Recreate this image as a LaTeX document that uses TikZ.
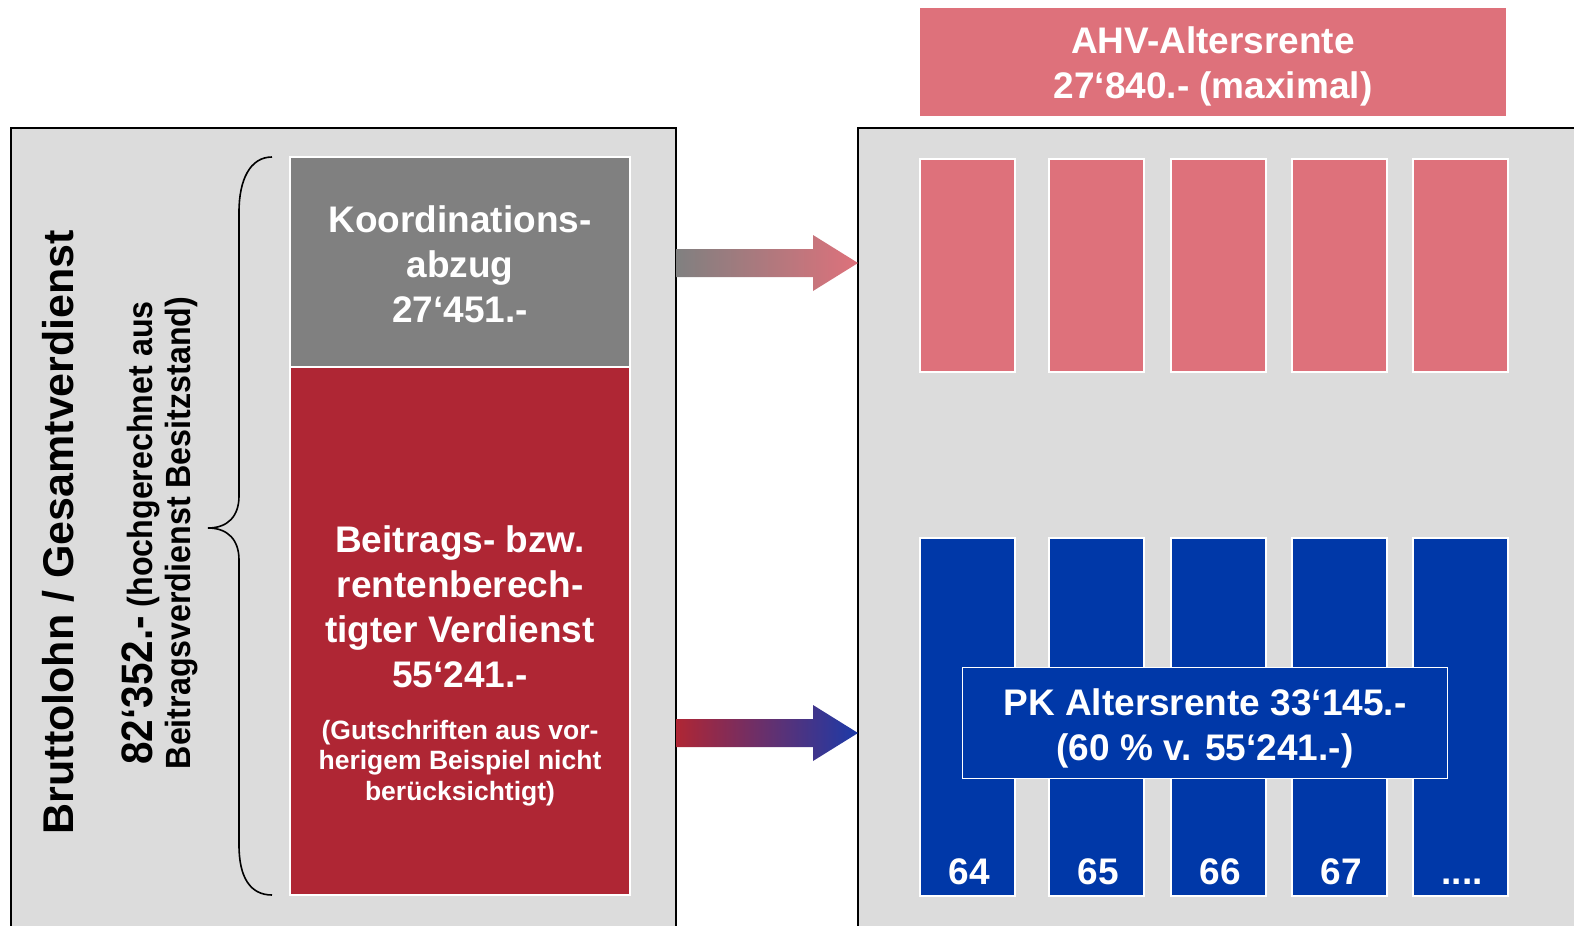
\documentclass[tikz,border=0pt]{standalone}
\usepackage{fontspec}
\setmainfont{Liberation Sans}
\newfontfamily\narrowsf[FakeStretch=0.92]{Liberation Sans}
\usepackage{tikz}
\usetikzlibrary{calc}

\definecolor{panelgray}{RGB}{220,220,220}
\definecolor{koordgray}{RGB}{128,128,128}
\definecolor{lohnred}{RGB}{175,38,52}
\definecolor{ahvpink}{RGB}{222,113,123}
\definecolor{pkblue}{RGB}{0,56,168}
\definecolor{tipblue}{RGB}{28,58,168}

\tikzset{
  whitebox/.style={draw=white, line width=1.5pt, inner sep=0pt},
  bigtext/.style={font=\bfseries\fontsize{37}{45}\selectfont, align=center, text=white, inner sep=0pt},
  smalltext/.style={font=\bfseries\fontsize{26.5}{30.5}\selectfont, align=center, text=white, inner sep=0pt},
  sidetext/.style={rotate=90, anchor=base, inner sep=0pt},
}

\newcommand{\moredots}{....}

% fat shaded arrow: start, tip, left colour, right colour
\newcommand{\fatarrow}[4]{%
  \shade[left color=#3, right color=#4]
    ($(#1)+(0,-14)$) -- ($(#2)+(-45,-14)$) -- ($(#2)+(-45,-28)$) -- (#2)
    -- ($(#2)+(-45,28)$) -- ($(#2)+(-45,14)$) -- ($(#1)+(0,14)$) -- cycle;}

\begin{document}
\begin{tikzpicture}[x=1pt,y=-1pt]
  \useasboundingbox (0,0) rectangle (1574,926);

  % the two panels
  \fill[panelgray] (11,128) rectangle (676,926);
  \draw[line width=1.8pt] (11,926) -- (11,128) -- (676,128) -- (676,926);
  \fill[panelgray] (858,128) rectangle (1574,926);
  \draw[line width=1.8pt] (858,926) -- (858,128) -- (1574,128);

  % left side: salary split
  \node[sidetext, font=\bfseries\fontsize{43}{50}\selectfont] (brutto) at (73,532) {Bruttolohn / Gesamtverdienst};
  \node[sidetext, font=\narrowsf\bfseries\fontsize{35}{40}\selectfont] (betrag) at (152,533)
    {{\fontsize{44}{50}\selectfont 82‘352.-} (hochgerechnet aus};
  \node[sidetext, font=\narrowsf\bfseries\fontsize{35}{40}\selectfont] (besitz) at (190,533) {Beitragsverdienst Besitzstand)};

  \draw[line width=1.6pt] (272,157) .. controls (250,157) and (239,180) .. (239,212) -- (239,496)
    .. controls (239,516) and (228,528) .. (208,528)
    .. controls (228,528) and (239,540) .. (239,560) -- (239,845)
    .. controls (239,877) and (250,895) .. (272,895);

  \node[whitebox, fill=koordgray, minimum width=340pt, minimum height=210pt] (koord) at (460,262) {};
  \node[bigtext] (koordtext) at (460,264) {Koordinations-\\abzug\\27‘451.-};
  \node[whitebox, fill=lohnred, minimum width=340pt, minimum height=528pt] (beitrag) at (460,631) {};
  \node[bigtext] (beitragtext) at (460,607) {Beitrags- bzw.\\rentenberech-\\tigter Verdienst\\55‘241.-};
  \node[smalltext] (gutschrift) at (460,763) {(Gutschriften aus vor-\\herigem Beispiel nicht\\berücksichtigt)};

  % right side: pensions per year
  \node[whitebox, fill=ahvpink, minimum width=588pt, minimum height=109pt] (ahvrente) at (1213,62) {};
  \node[bigtext] (ahvtext) at (1213,66) {AHV-Altersrente\\27‘840.- (maximal)};
  \foreach \x [count=\i] in {919,1048,1170,1291,1412} {
    \node[whitebox, fill=ahvpink, minimum width=95pt, minimum height=213pt, anchor=north west] (ahv\i) at (\x,158) {};
    \node[whitebox, fill=pkblue, minimum width=95pt, minimum height=358pt, anchor=north west] (pk\i) at (\x,537) {};
  }
  \foreach \lbl [count=\i] in {64,65,66,67,\moredots}
    \node[bigtext, anchor=base] (age\i) at ([xshift=2pt]pk\i.south |- 0,884) {\lbl};
  \node[whitebox, fill=pkblue, minimum width=485pt, minimum height=111pt] (pkrente) at (1205,723) {};
  \node[bigtext] (pktext) at (1205,728) {PK Altersrente 33‘145.-\\(60 \% v. 55‘241.-)};

  % arrows between the panels
  \coordinate (koordout) at (676,263);
  \coordinate (ahvin) at (858,263);
  \coordinate (beitragout) at (676,733);
  \coordinate (pkin) at (858,733);
  \fatarrow{koordout}{ahvin}{koordgray}{ahvpink}
  \fatarrow{beitragout}{pkin}{lohnred}{tipblue}
\end{tikzpicture}
\end{document}
